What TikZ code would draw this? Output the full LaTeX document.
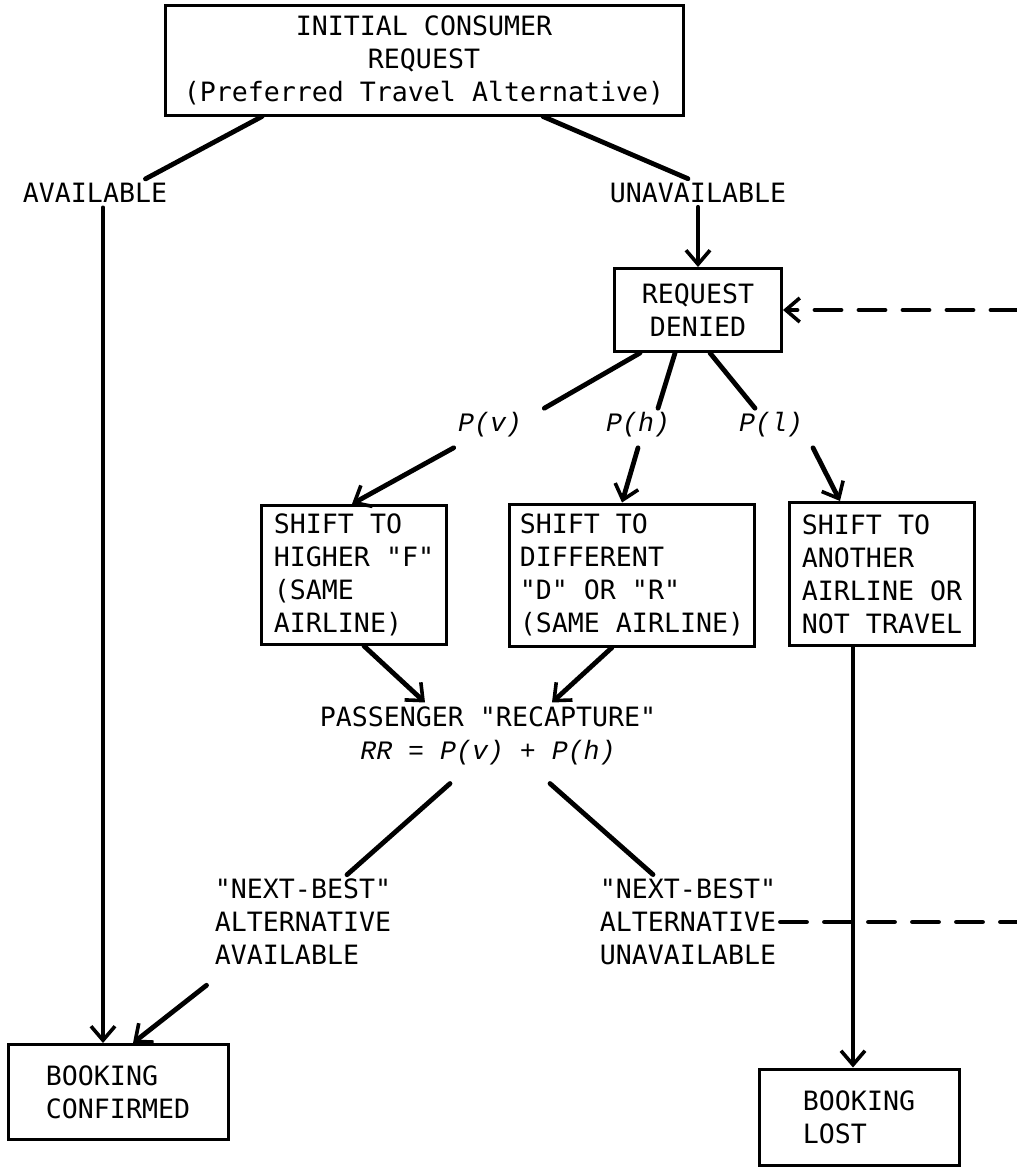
\documentclass[tikz,border=0pt]{standalone}
\usepackage{fontspec}
\setmonofont{DejaVu Sans Mono}
\newfontfamily\probfont{Liberation Mono}
\usetikzlibrary{arrows.meta}

\begin{document}
\begin{tikzpicture}[x=0.5pt, y=-0.5pt,
  every node/.style={font=\ttfamily\fontsize{13.3}{16.5}\selectfont},
  box/.style={draw, line width=1.5pt, align=left, inner sep=0pt},
  lbl/.style={align=left, inner sep=2pt},
  prob/.style={font=\probfont\itshape\fontsize{13.3}{16.5}\selectfont, inner sep=2pt},
  link/.style={line width=2.4pt, line cap=round},
  arr/.style={link, -{Straight Barb[length=7pt, width=12pt, line width=1.8pt]}}]
\useasboundingbox (0,0) rectangle (1017,1167);

\node[box, align=center, minimum width=259pt, minimum height=55pt] (request) at (424,60) {INITIAL CONSUMER\\REQUEST\\(Preferred Travel Alternative)};
\node[lbl] (avail) at (95,193) {AVAILABLE};
\node[lbl] (unavail) at (698,193) {UNAVAILABLE};
\node[box, align=center, minimum width=83.5pt, minimum height=41.5pt] (denied) at (698,310) {REQUEST\\DENIED};
\node[prob] (pv) at (490,425) {P(v)};
\node[prob] (ph) at (638,425) {P(h)};
\node[prob] (pl) at (771,425) {P(l)};
\node[box, minimum width=92.5pt, minimum height=69.5pt] (shiftv) at (354,575) {SHIFT TO\\HIGHER "F"\\(SAME\\AIRLINE)};
\node[box, minimum width=122.5pt, minimum height=71pt] (shifth) at (632,575) {SHIFT TO\\DIFFERENT\\"D" OR "R"\\(SAME AIRLINE)};
\node[box, minimum width=92.5pt, minimum height=71.5pt] (shiftl) at (882,574) {SHIFT TO\\ANOTHER\\AIRLINE OR\\NOT TRAVEL};
\node[lbl, align=center] (recap) at (488,736) {PASSENGER "RECAPTURE"\\{\probfont\itshape RR = P(v) + P(h)}};
\node[lbl] (nba) at (303,922) {"NEXT-BEST"\\ALTERNATIVE\\AVAILABLE};
\node[lbl] (nbu) at (688,922) {"NEXT-BEST"\\ALTERNATIVE\\UNAVAILABLE};
\node[box, minimum width=110pt, minimum height=47.5pt] (confirmed) at (118,1092) {BOOKING\\CONFIRMED};
\node[box, minimum width=100pt, minimum height=48pt] (lost) at (859,1117) {BOOKING\\LOST};
\coordinate (loopin) at (1017,310);
\coordinate (loopout) at (1017,922);

\draw[link] ([xshift=-81pt]request.south) -- ([xshift=-13pt]avail.north east);
\draw[link] ([xshift=59.5pt]request.south) -- ([xshift=-5pt]unavail.north);
\draw[arr, line width=1.6pt] ([xshift=4pt]avail.south) -- ([xshift=4pt]avail.south |- confirmed.north);
\draw[arr] (unavail) -- (denied);
\draw[arr, dashed, dash pattern=on 13pt off 9pt] (loopin) -- (denied.east);
\draw[link] ([xshift=-29pt]denied.south) -- ([xshift=9pt]pv.north east);
\draw[link] ([xshift=-11.5pt]denied.south) -- ([xshift=10pt]ph.north);
\draw[link] ([xshift=6pt]denied.south) -- ([xshift=-8pt]pl.north);
\draw[arr] ([yshift=-3pt]pv.south west) -- ([xshift=-1pt]shiftv.north);
\draw[arr] ([yshift=-3pt]ph.south) -- ([xshift=-5pt]shifth.north);
\draw[arr] ([xshift=21pt,yshift=-3pt]pl.south) -- ([xshift=-21pt]shiftl.north);
\draw[arr] ([xshift=5pt]shiftv.south) -- ([xshift=-31.5pt]recap.north);
\draw[arr] ([xshift=-10pt]shifth.south) -- ([xshift=32pt]recap.north);
\draw[arr, line width=1.6pt] ([xshift=-14.5pt]shiftl.south) -- ([xshift=-14.5pt]shiftl.south |- lost.north);
\draw[link] ([xshift=-19pt,yshift=-7pt]recap.south) -- ([xshift=22pt]nba.north);
\draw[link] ([xshift=31pt,yshift=-7pt]recap.south) -- ([xshift=-17.5pt]nbu.north);
\draw[arr] ([xshift=-2pt,yshift=-8pt]nba.south west) -- ([xshift=7.5pt]confirmed.north);
\draw[link, dashed, dash pattern=on 13pt off 9pt] (nbu.east) -- (loopout);
\end{tikzpicture}
\end{document}
